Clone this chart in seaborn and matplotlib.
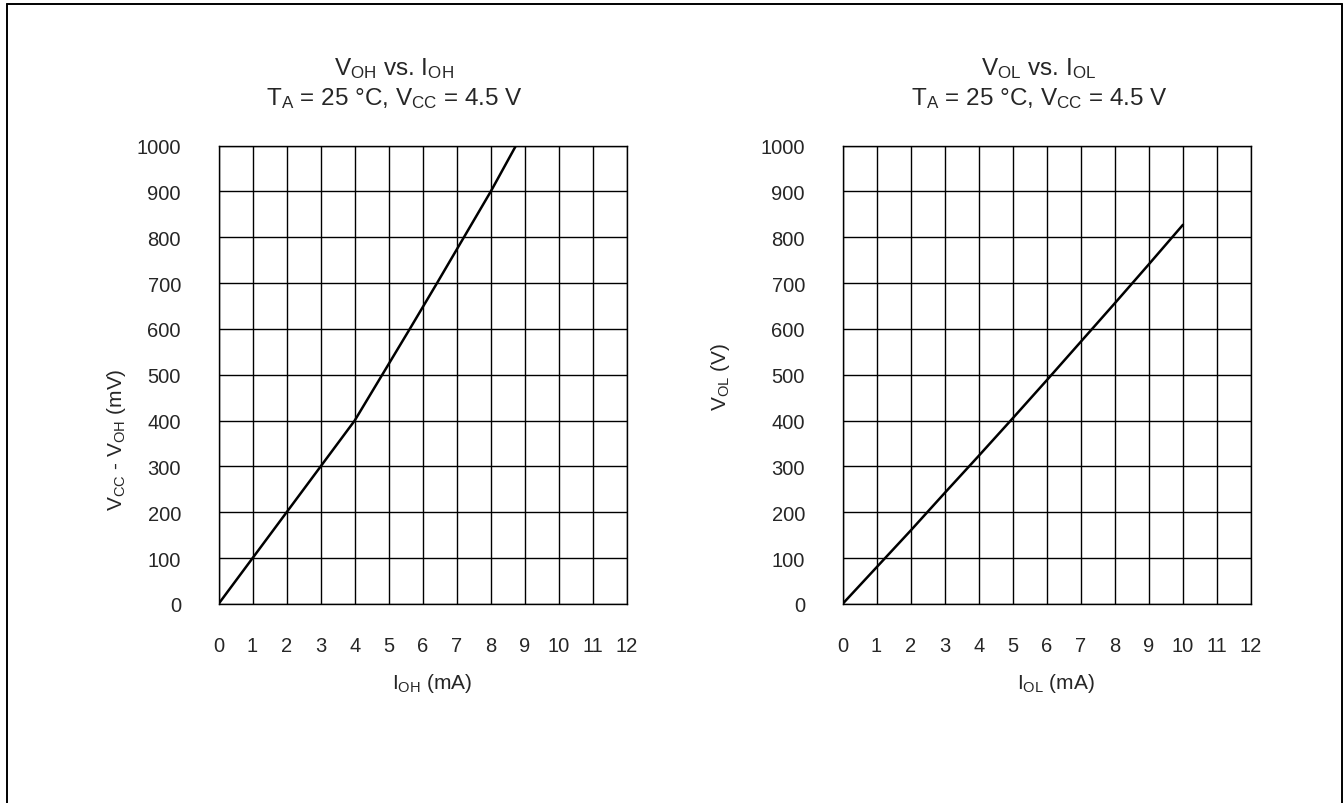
import pandas as pd
import seaborn as sns
import matplotlib.pyplot as plt
from matplotlib.lines import Line2D

# curve values
ioh_ma = [0, 1, 2, 3, 4, 4.81, 5.62, 6.42, 7.21, 8.0, 8.74]
vcc_voh_mv = [0, 100, 200, 300, 400, 500, 600, 700, 800, 900, 1000]
iol_ma = [0, 1, 2, 3, 4, 5, 6, 7, 8, 9, 10]
vol_mv = [0, 80, 160, 242, 323, 405, 488, 572, 656, 741, 827]

x_ticks = list(range(0, 13))
y_ticks = list(range(0, 1001, 100))

# texts
titles_left = [r'V$_{\mathregular{OH}}$ vs. I$_{\mathregular{OH}}$',
               r'T$_{\mathregular{A}}$ = 25 °C, V$_{\mathregular{CC}}$ = 4.5 V']
titles_right = [r'V$_{\mathregular{OL}}$ vs. I$_{\mathregular{OL}}$',
                r'T$_{\mathregular{A}}$ = 25 °C, V$_{\mathregular{CC}}$ = 4.5 V']
xlabel_left = r'I$_{\mathregular{OH}}$ (mA)'
ylabel_left = r'V$_{\mathregular{CC}}$ - V$_{\mathregular{OH}}$ (mV)'
xlabel_right = r'I$_{\mathregular{OL}}$ (mA)'
ylabel_right = r'V$_{\mathregular{OL}}$ (V)'

sns.set_style("white")
plt.rcParams['font.family'] = ['Liberation Sans', 'DejaVu Sans']
plt.rcParams['mathtext.fontset'] = 'custom'
plt.rcParams['mathtext.rm'] = 'Liberation Sans'
plt.rcParams['mathtext.it'] = 'Liberation Sans'

W, H = 1343, 804
fig = plt.figure(figsize=(W / 100, H / 100), dpi=100)


# pixel -> figure fraction helpers
def fx(x):
    return x / W


def fy(y):
    return 1 - y / H


ax1 = fig.add_axes([fx(218.5), fy(605), fx(627) - fx(218.5), fy(146.5) - fy(605)])
ax2 = fig.add_axes([fx(842.5), fy(605), fx(1251) - fx(842.5), fy(146.5) - fy(605)])

df1 = pd.DataFrame({'i': ioh_ma, 'v': vcc_voh_mv})
df2 = pd.DataFrame({'i': iol_ma, 'v': vol_mv})

for ax, df in ((ax1, df1), (ax2, df2)):
    sns.lineplot(data=df, x='i', y='v', ax=ax, color='black', lw=1.8, sort=False)
    ax.set_xlim(0, 12)
    ax.set_ylim(0, 1000)
    ax.set_xticks(x_ticks)
    ax.set_yticks(y_ticks)
    ax.grid(True, color='black', lw=1.0)
    ax.tick_params(axis='both', length=0, labelsize=14.5)
    ax.tick_params(axis='y', pad=27)
    ax.tick_params(axis='x', pad=23)
    ax.set_xlabel('')
    ax.set_ylabel('')
    for s in ax.spines.values():
        s.set_color('black')
        s.set_linewidth(1.0)

# titles (two lines each)
for cx, lines in ((394, titles_left), (1039, titles_right)):
    fig.text(fx(cx), fy(75), lines[0], ha='center', va='baseline', fontsize=17.5)
    fig.text(fx(cx), fy(105), lines[1], ha='center', va='baseline', fontsize=17.5)

# axis labels
fig.text(fx(432), fy(684), xlabel_left, ha='center', va='center', fontsize=15)
fig.text(fx(1056), fy(684), xlabel_right, ha='center', va='center', fontsize=15)
fig.text(fx(117), fy(440), ylabel_left, ha='center', va='center', rotation=90, fontsize=15)
fig.text(fx(720), fy(377), ylabel_right, ha='center', va='center', rotation=90, fontsize=15)

# frame around the figure (bottom edge falls outside the picture)
for xs, ys in (([7, 7], [4.5, 810]), ([1341.5, 1341.5], [4.5, 810]), ([7, 1341.5], [4.5, 4.5])):
    fig.add_artist(Line2D([fx(v) for v in xs], [fy(v) for v in ys],
                          transform=fig.transFigure, color='black', lw=1.4))

fig.savefig('out.png', dpi=100)
